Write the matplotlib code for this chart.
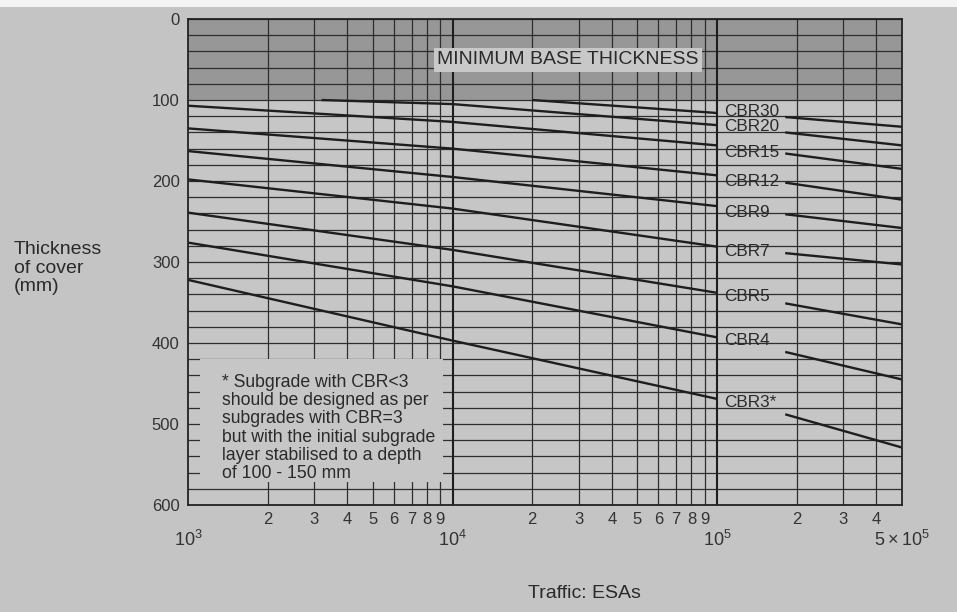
import numpy as np
import matplotlib.pyplot as plt
from matplotlib.patches import Rectangle

plt.rcParams['font.family'] = ['Liberation Sans', 'DejaVu Sans']
plt.rcParams['mathtext.fontset'] = 'custom'
plt.rcParams['mathtext.rm'] = 'Liberation Sans'

# curve data (traffic in ESAs, thickness of cover in mm)
cbr_labels = ['CBR30', 'CBR20', 'CBR15', 'CBR12', 'CBR9', 'CBR7', 'CBR5', 'CBR4', 'CBR3*']
start_x = [2.0e4, 3.2e3, 1e3, 1e3, 1e3, 1e3, 1e3, 1e3, 1e3]
start_y = [100, 100, 107, 135, 163, 198, 239, 276, 322]
y_1e4 = [None, 105, 127, 160, 195, 234, 285, 330, 397]
y_1e5 = [116, 131, 156, 193, 231, 281, 338, 393, 469]
y_gap_end = [121, 140, 166, 202, 241, 289, 351, 411, 488]   # where the line restarts after the label
y_5e5 = [133, 156, 185, 223, 258, 303, 377, 445, 529]
label_y = [114, 133, 165, 200, 239, 287, 343, 397, 473]

gap_end_x = 1.81e5
label_x = 1.065e5

note = ("* Subgrade with CBR<3\nshould be designed as per\nsubgrades with CBR=3\n"
        "but with the initial subgrade\nlayer stabilised to a depth\nof 100 - 150 mm")

major_ticks = [1e3, 1e4, 1e5, 5e5]
major_labels = [r'$\mathregular{10^3}$', r'$\mathregular{10^4}$', r'$\mathregular{10^5}$',
                r'$\mathregular{5\times10^5}$']
minor_digits = [2, 3, 4, 5, 6, 7, 8, 9]

bg = '#c4c4c4'
plot_bg = '#c6c6c6'
band = '#979797'
ink = '#1e1e1e'
txt = '#2a2a2a'

fig = plt.figure(figsize=(9.57, 6.12), dpi=100, facecolor=bg)
ax = fig.add_axes([0.1964, 0.1748, 0.7461, 0.7941])
ax.set_facecolor(plot_bg)
ax.set_xscale('log')
ax.set_xlim(1e3, 5e5)
ax.set_ylim(600, 0)

# minimum base thickness band
ax.axhspan(0, 100, color=band, zorder=0, lw=0)

# graph-paper grid
minor_ticks = [d * 10 ** e for e in (3, 4) for d in minor_digits] + [2e5, 3e5, 4e5]
minor_labels = [str(d) for e in (3, 4) for d in minor_digits] + ['2', '3', '4']
ax.hlines(np.arange(0, 601, 20), 1e3, 5e5, color='#2e2e2e', lw=0.9, zorder=1)
ax.vlines(minor_ticks, 0, 600, color='#2e2e2e', lw=0.9, zorder=1)
ax.vlines([1e4, 1e5], 0, 600, color='#1e1e1e', lw=1.5, zorder=1)

# note box hides the grid behind the footnote
ax.add_patch(Rectangle((1.11e3, 420), 9.2e3 - 1.11e3, 152, facecolor=plot_bg,
                       edgecolor='none', zorder=1.5))
ax.text(1.345e3, 438, note, fontsize=12.7, color=txt, va='top', ha='left',
        linespacing=1.1, zorder=4)

# CBR curves, broken where the label sits
for i, lab in enumerate(cbr_labels):
    xs = [start_x[i]]
    ys = [start_y[i]]
    if y_1e4[i] is not None:
        xs.append(1e4)
        ys.append(y_1e4[i])
    xs.append(1e5)
    ys.append(y_1e5[i])
    ax.plot(xs, ys, color=ink, lw=1.7, zorder=3, solid_capstyle='butt')
    ax.plot([gap_end_x, 5e5], [y_gap_end[i], y_5e5[i]], color=ink, lw=1.7, zorder=3,
            solid_capstyle='butt')
    ax.text(label_x, label_y[i], lab, fontsize=12.3, color=txt, va='center',
            ha='left', zorder=4)

ax.text(2.73e4, 50, 'MINIMUM BASE THICKNESS', fontsize=14, color=txt,
        ha='center', va='center', zorder=4,
        bbox=dict(facecolor='#c8c8c8', edgecolor='none', pad=2.5))

# axes and ticks
ax.set_yticks(np.arange(0, 601, 100))
ax.set_xticks(major_ticks, major_labels)
ax.set_xticks(minor_ticks, minor_labels, minor=True)
ax.tick_params(axis='both', which='both', length=0, labelsize=12, labelcolor='#333333')
ax.tick_params(axis='x', which='major', labelsize=13, pad=18)
ax.tick_params(axis='y', pad=6)
ax.tick_params(axis='x', which='minor', pad=5)
for s in ax.spines.values():
    s.set_color('#222222')
    s.set_linewidth(1.3)
    s.set_zorder(5)

fig.text(0.0146, 0.562, 'Thickness\nof cover\n(mm)', fontsize=14, color=txt,
         ha='left', va='center', linespacing=1.12)
fig.text(0.611, 0.031, 'Traffic: ESAs', fontsize=14, color=txt,
         ha='center', va='center')

# white strip along the top edge of the scan
fig.patches.append(Rectangle((0, 1 - 7 / 612), 1, 7 / 612, transform=fig.transFigure,
                             facecolor='#f4f4f4', edgecolor='none'))

fig.savefig('out.png', dpi=100, facecolor=bg)
